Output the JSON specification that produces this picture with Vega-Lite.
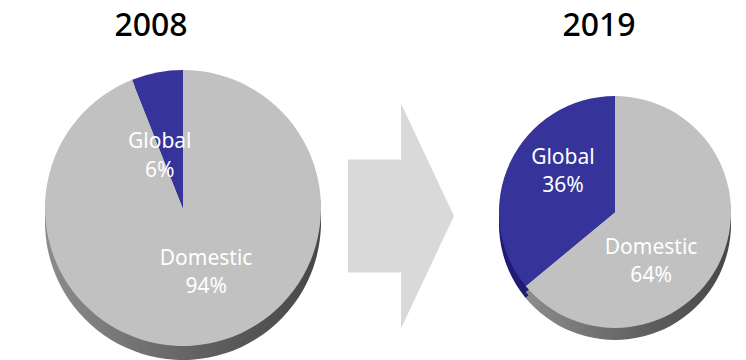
{
  "$schema": "https://vega.github.io/schema/vega-lite/v6.json",
  "padding": {"top": 10, "left": 0, "right": 0, "bottom": 0},
  "spacing": 0,
  "background": "white",
  "config": {
    "view": {"stroke": null},
    "concat": {"spacing": 0},
    "title": {"font": "Noto Sans", "fontSize": 32, "fontWeight": 500, "color": "#000000", "offset": 8, "anchor": "middle"},
    "text": {"font": "Noto Sans", "fontSize": 21, "fontWeight": "normal", "fill": "#ffffff"}
  },
  "datasets": {
    "y2008": [
      {"segment": "Domestic", "share": 0.94},
      {"segment": "Global", "share": 0.06}
    ],
    "y2019": [
      {"segment": "Domestic", "share": 0.64},
      {"segment": "Global", "share": 0.36}
    ],
    "arrow": [{"item": "arrow"}]
  },
  "hconcat": [
    {
      "width": 348,
      "height": 310,
      "title": {"text": "2008", "dx": -23},
      "data": {"name": "y2008"},
      "encoding": {
        "theta": {"field": "share", "type": "quantitative", "stack": true},
        "order": {"field": "segment", "type": "ordinal"}
      },
      "layer": [
        {
          "mark": {"type": "arc", "radius": 138, "xOffset": 9, "yOffset": 16},
          "encoding": {
            "fill": {
              "condition": {"test": "datum.segment === 'Global'", "value": "#1f1d73"},
              "value": {"gradient": "linear", "x1": 0, "x2": 1, "y1": 0, "y2": 0, "stops": [{"offset": 0, "color": "#8c8c8c"}, {"offset": 0.6, "color": "#5e5e5e"}, {"offset": 1, "color": "#474747"}]}
            }
          }
        },
        {
          "mark": {"type": "arc", "radius": 138, "xOffset": 9, "yOffset": 9},
          "encoding": {
            "fill": {
              "condition": {"test": "datum.segment === 'Global'", "value": "#1f1d73"},
              "value": {"gradient": "linear", "x1": 0, "x2": 1, "y1": 0, "y2": 0, "stops": [{"offset": 0, "color": "#8c8c8c"}, {"offset": 0.6, "color": "#5e5e5e"}, {"offset": 1, "color": "#474747"}]}
            }
          }
        },
        {
          "mark": {"type": "arc", "radius": 138, "xOffset": 9, "yOffset": 2},
          "encoding": {
            "fill": {
              "condition": {"test": "datum.segment === 'Global'", "value": "#36349a"},
              "value": "#c1c1c1"
            }
          }
        },
        {
          "mark": {"type": "text", "radius": 60, "xOffset": -3, "yOffset": -5},
          "encoding": {"text": {"condition": {"test": "datum.segment === 'Global'", "field": "segment", "type": "nominal"}, "value": ""}}
        },
        {
          "mark": {"type": "text", "radius": 60, "xOffset": -3, "yOffset": 24},
          "encoding": {"text": {"condition": {"test": "datum.segment === 'Global'", "field": "share", "type": "quantitative", "format": ".0%"}, "value": ""}}
        },
        {
          "mark": {"type": "text", "radius": 70, "xOffset": 19, "yOffset": -16},
          "encoding": {"text": {"condition": {"test": "datum.segment === 'Domestic'", "field": "segment", "type": "nominal"}, "value": ""}}
        },
        {
          "mark": {"type": "text", "radius": 70, "xOffset": 19, "yOffset": 12},
          "encoding": {"text": {"condition": {"test": "datum.segment === 'Domestic'", "field": "share", "type": "quantitative", "format": ".0%"}, "value": ""}}
        }
      ]
    },
    {
      "width": 104,
      "height": 310,
      "title": {"text": " "},
      "data": {"name": "arrow"},
      "mark": {
        "type": "point",
        "shape": "M-0.471,-0.502 L0,-0.502 L0,-1 L0.471,0 L0,1 L0,0.502 L-0.471,0.502 Z",
        "size": 50625,
        "filled": true,
        "fill": "#d9d9d9",
        "opacity": 1,
        "strokeWidth": 0,
        "yOffset": 10
      },
      "encoding": {}
    },
    {
      "width": 294,
      "height": 310,
      "title": {"text": "2019", "dx": -2},
      "data": {"name": "y2019"},
      "encoding": {
        "theta": {"field": "share", "type": "quantitative", "stack": true},
        "order": {"field": "segment", "type": "ordinal"}
      },
      "layer": [
        {
          "mark": {"type": "arc", "radius": 116, "xOffset": 14, "yOffset": 18},
          "encoding": {
            "fill": {
              "condition": {"test": "datum.segment === 'Global'", "value": "#1f1d73"},
              "value": {"gradient": "linear", "x1": 0, "x2": 1, "y1": 0, "y2": 0, "stops": [{"offset": 0, "color": "#8c8c8c"}, {"offset": 0.6, "color": "#5e5e5e"}, {"offset": 1, "color": "#474747"}]}
            }
          }
        },
        {
          "mark": {"type": "arc", "radius": 116, "xOffset": 14, "yOffset": 12},
          "encoding": {
            "fill": {
              "condition": {"test": "datum.segment === 'Global'", "value": "#1f1d73"},
              "value": {"gradient": "linear", "x1": 0, "x2": 1, "y1": 0, "y2": 0, "stops": [{"offset": 0, "color": "#8c8c8c"}, {"offset": 0.6, "color": "#5e5e5e"}, {"offset": 1, "color": "#474747"}]}
            }
          }
        },
        {
          "mark": {"type": "arc", "radius": 116, "xOffset": 14, "yOffset": 6},
          "encoding": {
            "fill": {
              "condition": {"test": "datum.segment === 'Global'", "value": "#36349a"},
              "value": "#c1c1c1"
            }
          }
        },
        {
          "mark": {"type": "text", "radius": 62, "xOffset": 18, "yOffset": -22},
          "encoding": {"text": {"condition": {"test": "datum.segment === 'Global'", "field": "segment", "type": "nominal"}, "value": ""}}
        },
        {
          "mark": {"type": "text", "radius": 62, "xOffset": 18, "yOffset": 6},
          "encoding": {"text": {"condition": {"test": "datum.segment === 'Global'", "field": "share", "type": "quantitative", "format": ".0%"}, "value": ""}}
        },
        {
          "mark": {"type": "text", "radius": 62, "xOffset": -6, "yOffset": 16},
          "encoding": {"text": {"condition": {"test": "datum.segment === 'Domestic'", "field": "segment", "type": "nominal"}, "value": ""}}
        },
        {
          "mark": {"type": "text", "radius": 62, "xOffset": -6, "yOffset": 44},
          "encoding": {"text": {"condition": {"test": "datum.segment === 'Domestic'", "field": "share", "type": "quantitative", "format": ".0%"}, "value": ""}}
        }
      ]
    }
  ]
}
